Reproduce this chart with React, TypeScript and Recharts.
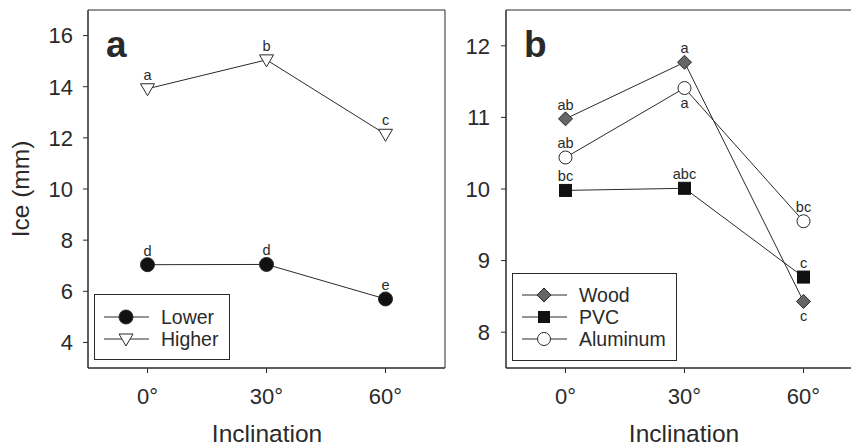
import React from "react";
import {
  LineChart,
  Line,
  XAxis,
  YAxis,
  ReferenceArea,
  LabelList,
  Legend,
  Customized,
} from "recharts";

const inclinations = [0, 30, 60];
const xTicks = [0, 30, 60];

const lowerIce = [7.04, 7.05, 5.7];
const higherIce = [13.92, 15.05, 12.14];
const lowerLetters = ["d", "d", "e"];
const higherLetters = ["a", "b", "c"];
const panelATicks = [4, 6, 8, 10, 12, 14, 16];

const woodIce = [10.98, 11.77, 8.43];
const pvcIce = [9.98, 10.01, 8.77];
const aluminumIce = [10.44, 11.41, 9.55];
const woodLetters = ["ab", "a", "c"];
const woodBelow = [false, false, true];
const pvcLetters = ["bc", "abc", "c"];
const aluminumLetters = ["ab", "a", "bc"];
const aluminumBelow = [false, true, false];
const panelBTicks = [8, 9, 10, 11, 12];

const FONT = "'Liberation Sans', Arial, sans-serif";
const INK = "#2a2a2a";

const dataA = inclinations.map((x, i) => ({ x, lower: lowerIce[i], higher: higherIce[i] }));
const dataB = inclinations.map((x, i) => ({
  x,
  wood: woodIce[i],
  pvc: pvcIce[i],
  aluminum: aluminumIce[i],
}));

function letterLabel(letters: string[], below?: boolean[]) {
  return (props: any) => {
    const { x, y, index } = props;
    const under = below ? below[index] : false;
    return (
      <text
        key={`l-${index}`}
        x={x}
        y={under ? y + 20 : y - 9}
        textAnchor="middle"
        fontSize={14.5}
        fontFamily={FONT}
        fill={INK}
      >
        {letters[index]}
      </text>
    );
  };
}

const circleDot = (fill: string, r: number) => (p: any) =>
  <circle key={`c-${p.index}`} cx={p.cx} cy={p.cy} r={r} fill={fill} stroke={INK} strokeWidth={1} />;

const triangleDot = (p: any) => (
  <path
    key={`t-${p.index}`}
    d={`M${p.cx - 7},${p.cy - 5} L${p.cx + 7},${p.cy - 5} L${p.cx},${p.cy + 7} Z`}
    fill="#fff"
    stroke={INK}
    strokeWidth={1}
  />
);

const squareDot = (p: any) => (
  <rect key={`s-${p.index}`} x={p.cx - 6} y={p.cy - 6} width={12} height={12} fill="#111" stroke="#111" />
);

const diamondDot = (p: any) => (
  <path
    key={`d-${p.index}`}
    d={`M${p.cx},${p.cy - 7} L${p.cx + 7},${p.cy} L${p.cx},${p.cy + 7} L${p.cx - 7},${p.cy} Z`}
    fill="#666"
    stroke={INK}
    strokeWidth={1}
  />
);

type Item = { name: string; marker: (cx: number, cy: number) => React.ReactNode };

function LegendBox({ items, width, height, top }: { items: Item[]; width: number; height: number; top: number }) {
  return (
    <div
      style={{
        width,
        height,
        border: `1px solid ${INK}`,
        boxSizing: "border-box",
        background: "#fff",
        position: "relative",
      }}
    >
      <svg width={width - 2} height={height - 2} style={{ position: "absolute", left: 0, top: 0 }}>
        {items.map((it, i) => {
          const cy = top + i * 22;
          return (
            <g key={it.name}>
              <line x1={9} x2={54} y1={cy} y2={cy} stroke={INK} strokeWidth={1} />
              {it.marker(31, cy)}
              <text x={66} y={cy} dominantBaseline="central" fontSize={19.5} fontFamily={FONT} fill={INK}>
                {it.name}
              </text>
            </g>
          );
        })}
      </svg>
    </div>
  );
}

const legendA: Item[] = [
  { name: "Lower", marker: (cx, cy) => <circle cx={cx} cy={cy} r={7} fill="#111" stroke={INK} /> },
  {
    name: "Higher",
    marker: (cx, cy) => (
      <path d={`M${cx - 7},${cy - 5} L${cx + 7},${cy - 5} L${cx},${cy + 7} Z`} fill="#fff" stroke={INK} />
    ),
  },
];

const legendB: Item[] = [
  {
    name: "Wood",
    marker: (cx, cy) => (
      <path d={`M${cx},${cy - 7} L${cx + 7},${cy} L${cx},${cy + 7} L${cx - 7},${cy} Z`} fill="#666" stroke={INK} />
    ),
  },
  { name: "PVC", marker: (cx, cy) => <rect x={cx - 6} y={cy - 6} width={12} height={12} fill="#111" /> },
  { name: "Aluminum", marker: (cx, cy) => <circle cx={cx} cy={cy} r={6.5} fill="#fff" stroke={INK} /> },
];

const tickStyle = { fill: INK, fontSize: 22, fontFamily: FONT };

const xTitle = (cx: number) => () =>
  (
    <text x={cx} y={442} textAnchor="middle" fontSize={24.5} fontFamily={FONT} fill={INK}>
      Inclination
    </text>
  );

export default function App() {
  return (
    <div
      style={{
        position: "absolute",
        left: 0,
        top: 0,
        width: 851,
        height: 448,
        overflow: "hidden",
        background: "#fff",
      }}
    >
      <div style={{ position: "absolute", left: 0, top: 0 }}>
        <LineChart width={460} height={448} data={dataA} margin={{ top: 10, right: 15, left: 0, bottom: 0 }}>
          <XAxis
            dataKey="x"
            type="number"
            domain={[-15, 75]}
            ticks={xTicks}
            tickFormatter={(v) => `${v}°`}
            height={80}
            tickSize={5}
            tickMargin={15}
            tick={tickStyle}
            axisLine={{ stroke: INK }}
            tickLine={{ stroke: INK }}
            label={{ content: xTitle(267) }}
          />
          <YAxis
            type="number"
            domain={[3, 17]}
            ticks={panelATicks}
            width={88}
            tickSize={5}
            tickMargin={10}
            tick={tickStyle}
            axisLine={{ stroke: INK }}
            tickLine={{ stroke: INK }}
            label={{
              content: () => (
                <text
                  x={29}
                  y={189}
                  transform="rotate(-90, 29, 189)"
                  textAnchor="middle"
                  fontSize={24.5}
                  fontFamily={FONT}
                  fill={INK}
                >
                  Ice (mm)
                </text>
              ),
            }}
          />
          <ReferenceArea x1={-15} x2={75} y1={3} y2={17} fill="none" stroke={INK} strokeWidth={1} />
          <Line
            dataKey="lower"
            stroke={INK}
            strokeWidth={1}
            dot={circleDot("#111", 7)}
            isAnimationActive={false}
          >
            <LabelList dataKey="lower" content={letterLabel(lowerLetters)} />
          </Line>
          <Line dataKey="higher" stroke={INK} strokeWidth={1} dot={triangleDot} isAnimationActive={false}>
            <LabelList dataKey="higher" content={letterLabel(higherLetters)} />
          </Line>
          <Customized
            component={() => (
              <text x={106} y={57} fontSize={37} fontWeight="bold" fontFamily={FONT} fill={INK}>
                a
              </text>
            )}
          />
          <Legend
            verticalAlign="middle"
            layout="horizontal"
            wrapperStyle={{ left: 94, top: 294, width: 136, height: 66 }}
            content={() => <LegendBox items={legendA} width={136} height={66} top={22} />}
          />
        </LineChart>
      </div>
      <div style={{ position: "absolute", left: 430, top: 0 }}>
        <LineChart width={440} height={448} data={dataB} margin={{ top: 10, right: 7, left: 0, bottom: 0 }}>
          <XAxis
            dataKey="x"
            type="number"
            domain={[-15, 75]}
            ticks={xTicks}
            tickFormatter={(v) => `${v}°`}
            height={80}
            tickSize={5}
            tickMargin={15}
            tick={tickStyle}
            axisLine={{ stroke: INK }}
            tickLine={{ stroke: INK }}
            label={{ content: xTitle(254) }}
          />
          <YAxis
            type="number"
            domain={[7.5, 12.5]}
            ticks={panelBTicks}
            width={76}
            tickSize={5}
            tickMargin={11}
            tick={tickStyle}
            axisLine={{ stroke: INK }}
            tickLine={{ stroke: INK }}
          />
          <ReferenceArea x1={-15} x2={75} y1={7.5} y2={12.5} fill="none" stroke={INK} strokeWidth={1} />
          <Line dataKey="aluminum" stroke={INK} strokeWidth={1} dot={circleDot("#fff", 6.5)} isAnimationActive={false}>
            <LabelList dataKey="aluminum" content={letterLabel(aluminumLetters, aluminumBelow)} />
          </Line>
          <Line dataKey="pvc" stroke={INK} strokeWidth={1} dot={squareDot} isAnimationActive={false}>
            <LabelList dataKey="pvc" content={letterLabel(pvcLetters)} />
          </Line>
          <Line dataKey="wood" stroke={INK} strokeWidth={1} dot={diamondDot} isAnimationActive={false}>
            <LabelList dataKey="wood" content={letterLabel(woodLetters, woodBelow)} />
          </Line>
          <Customized
            component={() => (
              <text x={94} y={57} fontSize={37} fontWeight="bold" fontFamily={FONT} fill={INK}>
                b
              </text>
            )}
          />
          <Legend
            verticalAlign="middle"
            layout="horizontal"
            wrapperStyle={{ left: 82, top: 273, width: 165, height: 88 }}
            content={() => <LegendBox items={legendB} width={165} height={88} top={21} />}
          />
        </LineChart>
      </div>
    </div>
  );
}
